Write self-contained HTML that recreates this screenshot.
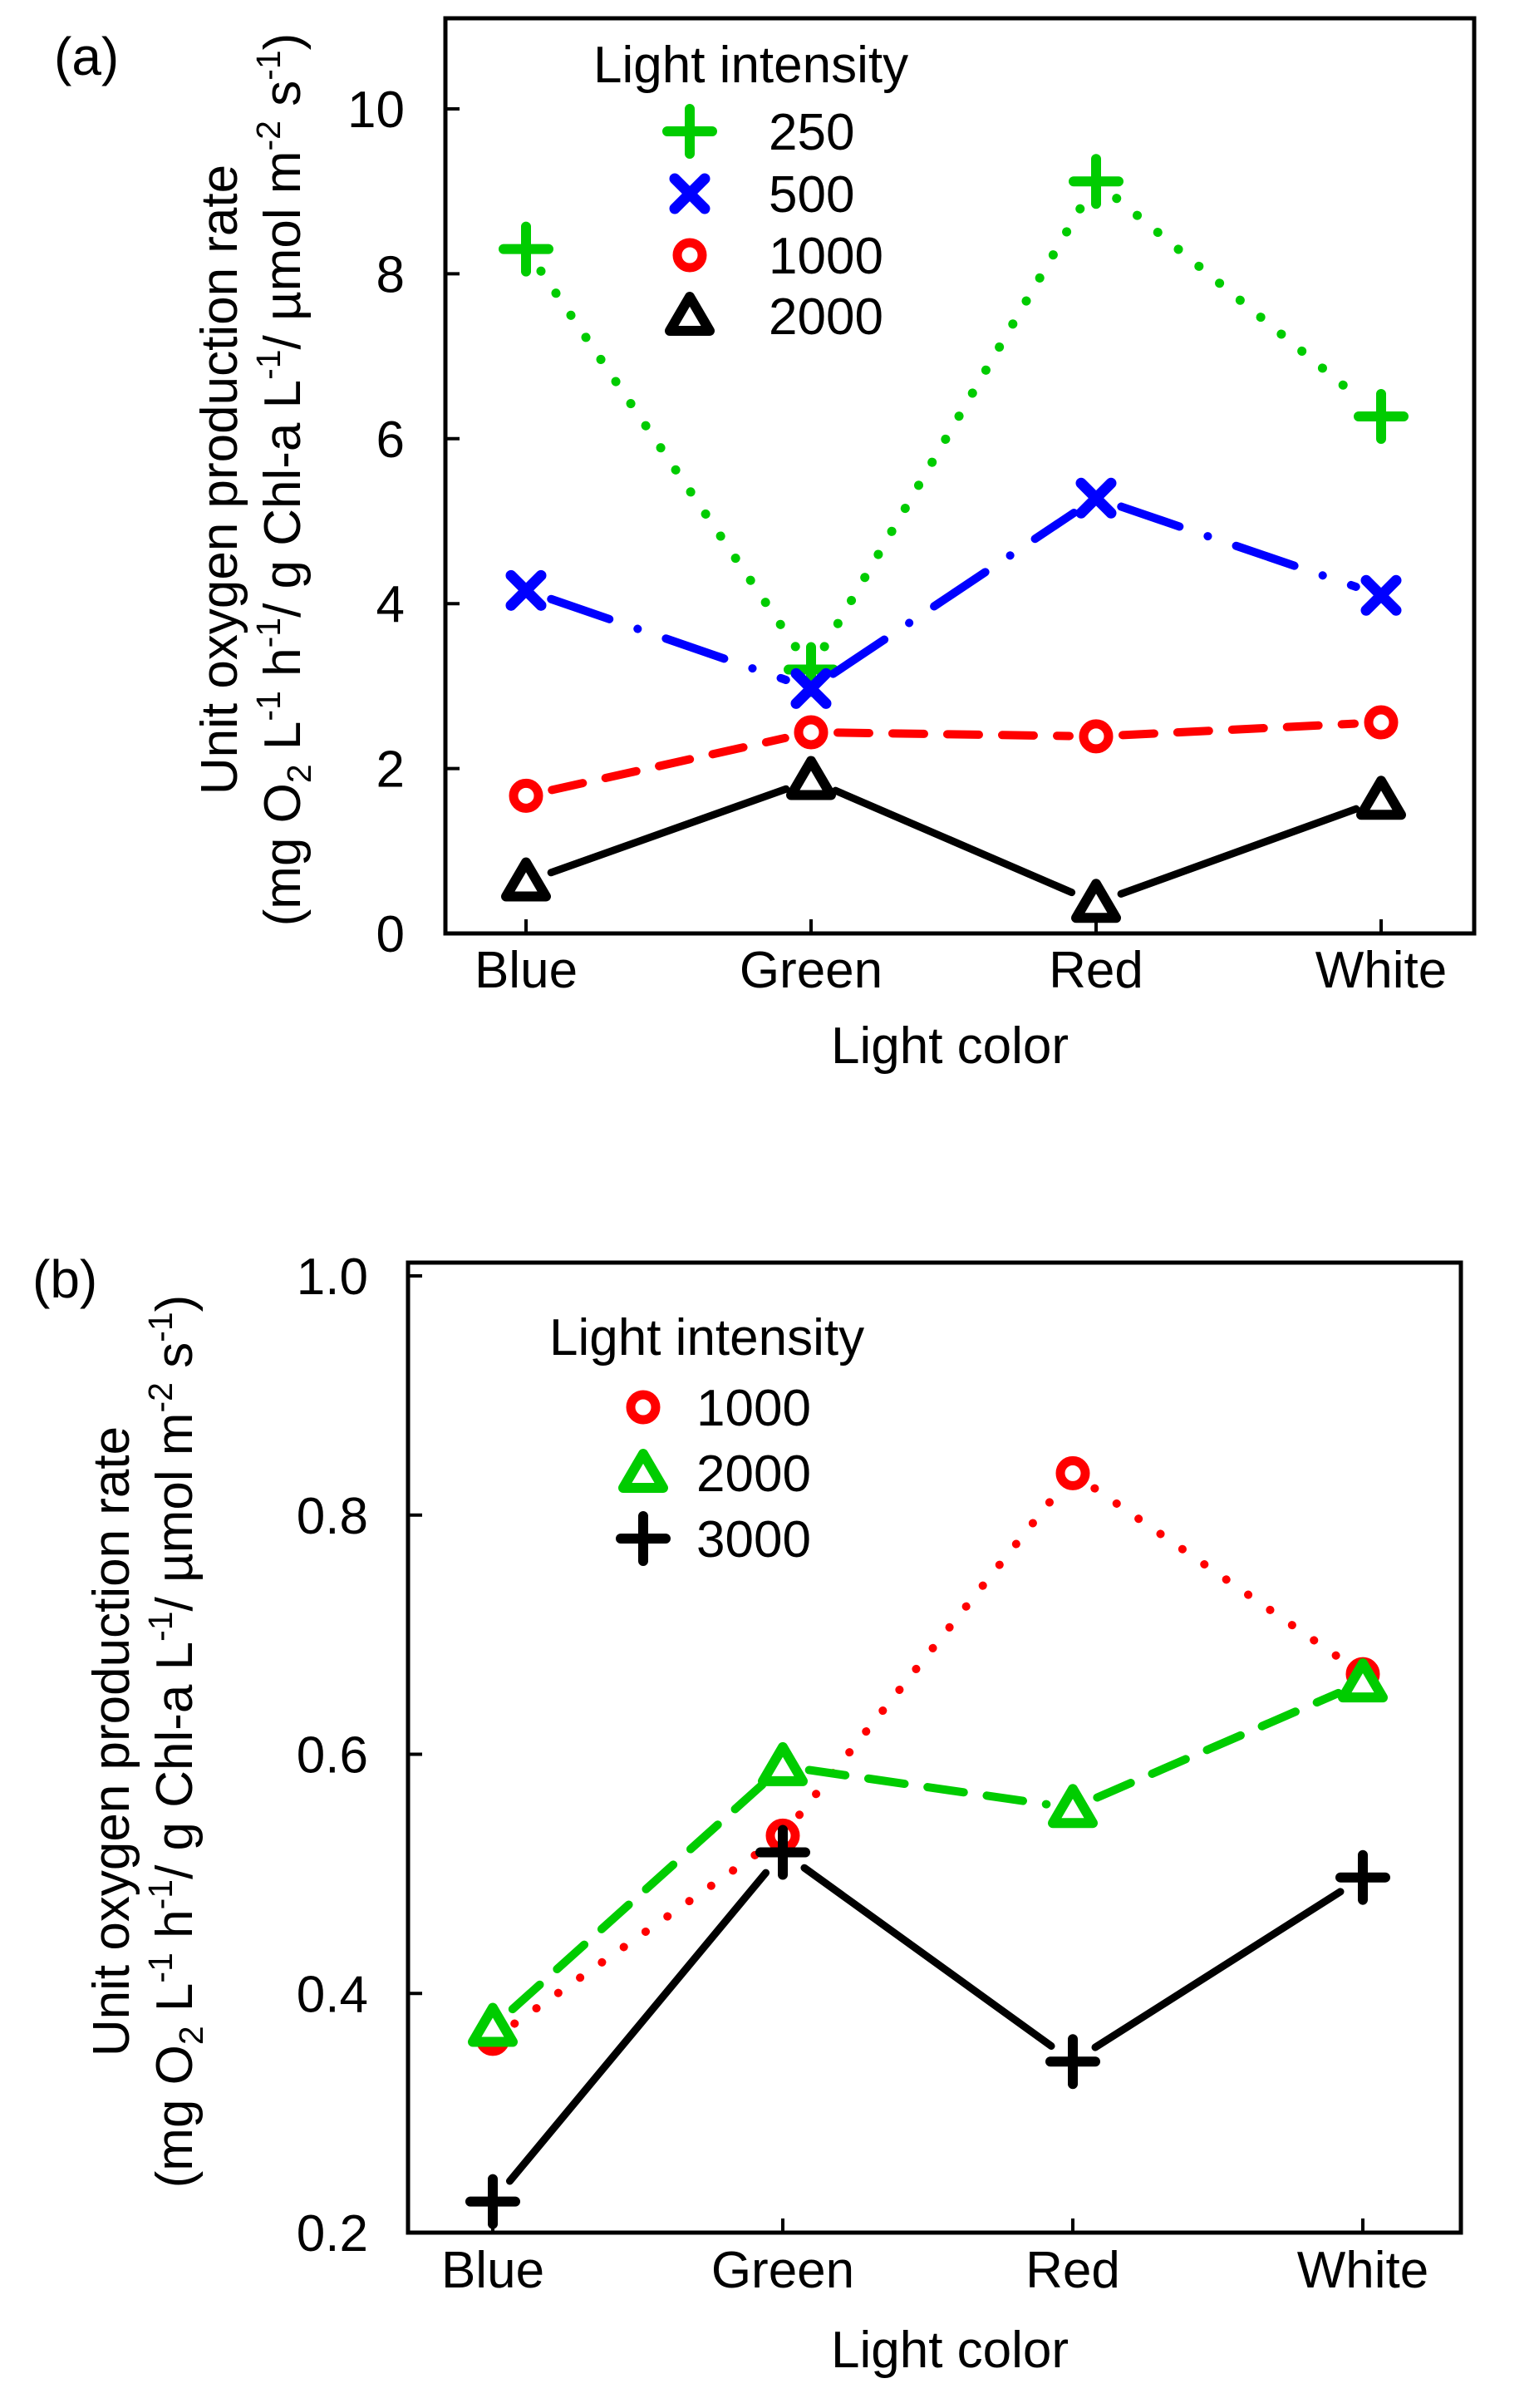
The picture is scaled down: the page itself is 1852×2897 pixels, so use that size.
<!DOCTYPE html>
<html><head><meta charset="utf-8"><style>
html,body{margin:0;padding:0;background:#fff;}
svg{display:block;font-family:"Liberation Sans",Arial,sans-serif;}
</style></head><body>
<svg id="chart" width="1852" height="2897" viewBox="0 0 1852 2897" xmlns="http://www.w3.org/2000/svg">
<rect x="0" y="0" width="1852" height="2897" fill="#fff"/>
<text x="65" y="90" font-size="64">(a)</text>
<text x="39" y="1561" font-size="64">(b)</text>
<g id="ga"></g>
<g id="gb"></g>
</svg>
<script>
const categories = ["Blue","Green","Red","White"];
// Chart (a)
const aTicks = [0,2,4,6,8,10];
const aTickLabels = ["0","2","4","6","8","10"];
const aSeriesNames = ["250","500","1000","2000"];
const a250 = [8.3,3.2,9.12,6.27];
const a500 = [4.16,2.97,5.28,4.1];
const a1000 = [1.67,2.44,2.39,2.56];
const a2000 = [0.63,1.86,0.37,1.62];
// Chart (b)
const bTicks = [0.2,0.4,0.6,0.8,1.0];
const bTickLabels = ["0.2","0.4","0.6","0.8","1.0"];
const bSeriesNames = ["1000","2000","3000"];
const b1000 = [0.362,0.532,0.835,0.667];
const b2000 = [0.372,0.59,0.555,0.66];
const b3000 = [0.226,0.518,0.343,0.497];

const NS="http://www.w3.org/2000/svg";
function mk(tag,attrs,parent){const e=document.createElementNS(NS,tag);for(const k in attrs)e.setAttribute(k,attrs[k]);parent.appendChild(e);return e;}

function marker(g,type,cx,cy,color){
  let m;
  if(type==="plus"){
    m=mk("path",{d:`M${cx-27},${cy}H${cx+27}M${cx},${cy-27}V${cy+27}`,stroke:color,"stroke-width":12,"stroke-linecap":"round",fill:"none"},g);
  }else if(type==="x"){
    m=mk("path",{d:`M${cx-18},${cy-18}L${cx+18},${cy+18}M${cx+18},${cy-18}L${cx-18},${cy+18}`,stroke:color,"stroke-width":13,"stroke-linecap":"round",fill:"none"},g);
  }else if(type==="circle"){
    m=mk("circle",{cx:cx,cy:cy,r:15,stroke:color,"stroke-width":11,fill:"#fff"},g);
  }else{
    m=mk("path",{d:`M${cx},${cy-23}L${cx+24},${cy+18}L${cx-24},${cy+18}Z`,stroke:color,"stroke-width":12,"stroke-linejoin":"round",fill:"#fff"},g);
  }
  return m;
}

function drawChart(g,cfg){
  const {L,R,T,B,x0,dx,y0px,y1px,v0,v1}=cfg;
  const xs=i=>x0+i*dx;
  const ys=v=>y0px+(v-v0)*(y1px-y0px)/(v1-v0);
  const box=mk("rect",{x:L,y:T,width:R-L,height:B-T,fill:"none",stroke:"#000","stroke-width":5},g);
  
  
  cfg.ticks.forEach((t,i)=>{
    const y=ys(t);
    const tk=mk("line",{x1:L,x2:L+17,y1:y,y2:y,stroke:"#000","stroke-width":4},g);
    
    
    const tl=mk("text",{x:cfg.tickRight,y:y+22,"font-size":62,"text-anchor":"end"},g);
    tl.textContent=cfg.tickLabels[i];
    
    
  });
  categories.forEach((c,i)=>{
    const x=xs(i);
    const tk=mk("line",{x1:x,x2:x,y1:B,y2:B-17,stroke:"#000","stroke-width":4},g);
    
    
    const tl=mk("text",{x:x,y:cfg.xLabelY,"font-size":62,"text-anchor":"middle"},g);
    tl.textContent=c;
    
    
  });
  const xt=mk("text",{x:cfg.xTitleX,y:cfg.xTitleY,"font-size":62,"text-anchor":"middle"},g);
  xt.textContent="Light color";
  
  
  const yt=mk("g",{transform:`translate(${cfg.yTitleX},${cfg.yTitleY}) rotate(-90)`},g);
  
  
  const t1=mk("text",{x:0,y:0,"font-size":62,"text-anchor":"middle"},yt);
  t1.textContent="Unit oxygen production rate";
  const t2=mk("text",{x:0,y:76,"font-size":62,"text-anchor":"middle"},yt);
  t2.innerHTML='(mg O<tspan font-size="41" dy="13">2</tspan><tspan dy="-13"> L</tspan><tspan font-size="41" dy="-24">-1</tspan><tspan dy="24"> h</tspan><tspan font-size="41" dy="-24">-1</tspan><tspan dy="24">/ g Chl-a L</tspan><tspan font-size="41" dy="-24">-1</tspan><tspan dy="24">/ µmol m</tspan><tspan font-size="41" dy="-24">-2</tspan><tspan dy="24"> s</tspan><tspan font-size="41" dy="-24">-1</tspan><tspan dy="24">)</tspan>';
  cfg.series.forEach(s=>{
    const sg=mk("g",{},g);
    
    
    const pts=s.values.map((v,i)=>[xs(i),ys(v)]);
    for(let i=0;i<pts.length-1;i++){
      const [xa,ya]=pts[i],[xb,yb]=pts[i+1];
      const len=Math.hypot(xb-xa,yb-ya),gap=32;
      if(len<2*gap)continue;
      const ux=(xb-xa)/len,uy=(yb-ya)/len;
      const ln=mk("line",{x1:xa+ux*gap,y1:ya+uy*gap,x2:xb-ux*gap,y2:yb-uy*gap,stroke:s.color,"stroke-width":s.sw||9,"stroke-linecap":"round","stroke-dasharray":s.dash||"none"},sg);
      
      
    }
    pts.forEach(p=>{
      const m=marker(sg,s.marker,p[0],p[1],s.color);
      
      
    });
  });
  const lg=mk("g",{},g);
  
  
  const lt=mk("text",{x:cfg.legTitleX,y:cfg.legTitleY+22,"font-size":62},lg);
  lt.textContent="Light intensity";
  
  
  cfg.series.forEach((s,i)=>{
    const y=cfg.legRows[i];
    const m=marker(lg,s.marker,cfg.legMarkX,y,s.color);
    
    
    const t=mk("text",{x:cfg.legTextX,y:y+22,"font-size":62},lg);
    t.textContent=s.name;
    
    
  });
}

drawChart(document.getElementById('ga'),{
  L:536,R:1774,T:22,B:1123,x0:633,dx:343,y0px:1123,y1px:131,v0:0,v1:10,
  ticks:aTicks,tickLabels:aTickLabels,tickRight:487,xLabelY:1188,xTitleX:1143,xTitleY:1279,
  yTitleX:285,yTitleY:577,
  legTitleX:714,legTitleY:77,legMarkX:830,legTextX:925,legRows:[158,233,307,380],
  series:[
    {name:aSeriesNames[0],values:a250,color:"#00cc00",marker:"plus",dash:"0.1 32",sw:11},
    {name:aSeriesNames[1],values:a500,color:"#0000ff",marker:"x",dash:"74 36 0.1 36",sw:10},
    {name:aSeriesNames[2],values:a1000,color:"#ff0000",marker:"circle",dash:"38 28",sw:10},
    {name:aSeriesNames[3],values:a2000,color:"#000000",marker:"tri",sw:9}
  ]
});
drawChart(document.getElementById('gb'),{
  L:491,R:1758,T:1519,B:2686,x0:593,dx:349,y0px:2686,y1px:1535,v0:0.2,v1:1.0,
  ticks:bTicks,tickLabels:bTickLabels,tickRight:443,xLabelY:2752,xTitleX:1143,xTitleY:2848,
  yTitleX:155,yTitleY:2095,
  legTitleX:661,legTitleY:1608,legMarkX:774,legTextX:838,legRows:[1693,1772,1851],
  series:[
    {name:bSeriesNames[0],values:b1000,color:"#ff0000",marker:"circle",dash:"0.1 32",sw:10},
    {name:bSeriesNames[1],values:b2000,color:"#00cc00",marker:"tri",dash:"44 28",sw:10},
    {name:bSeriesNames[2],values:b3000,color:"#000000",marker:"plus",sw:9}
  ]
});
</script>
</body></html>
